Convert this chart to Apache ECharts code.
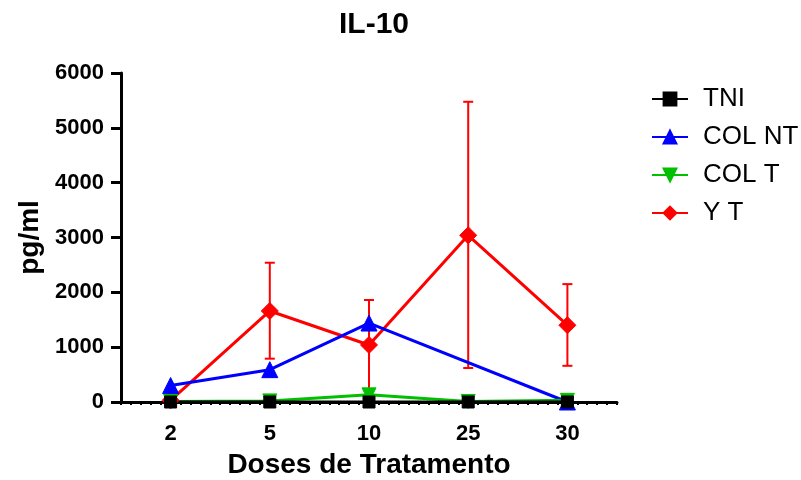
<!DOCTYPE html>
<html>
<head>
<meta charset="utf-8">
<script src="https://cdn.jsdelivr.net/npm/echarts@6/dist/echarts.min.js"></script>
<style>
html,body{margin:0;padding:0;background:#fff;}
#c{width:801px;height:480px;}
</style>
</head>
<body>
<div id="c"></div>
<script>
var categories = ['2', '5', '10', '25', '30'];
var tni = [0, 0, 0, 0, 0];
var colNT = [300, 590, 1440, null, 0];
var colT = [10, 20, 130, 10, 30];
var yT = [30, 1660, 1040, 3040, 1400];
var yTLow = [null, 790, 220, 620, 660];
var yTHigh = [null, 2540, 1860, 5475, 2150];
var yTicks = [0, 1000, 2000, 3000, 4000, 5000, 6000];

var FONT = 'Liberation Sans, Arial, sans-serif';
var chart = echarts.init(document.getElementById('c'));

var errData = [];
for (var i = 0; i < categories.length; i++) {
  if (yTLow[i] != null) errData.push([i, yTLow[i], yTHigh[i]]);
}

function mkLine(name, data, color, symbol, size, rot) {
  return {
    name: name, type: 'line', data: data, connectNulls: true,
    xAxisIndex: 0, yAxisIndex: 0,
    symbol: symbol, symbolSize: size, symbolRotate: rot || 0,
    lineStyle: { color: color, width: 3 },
    itemStyle: { color: color, borderColor: color, borderWidth: 1 },
    emphasis: { disabled: true }, animation: false
  };
}

var option = {
  backgroundColor: '#fff',
  animation: false,
  title: {
    text: 'IL-10', left: 369, textAlign: 'center', top: 5,
    textStyle: { fontFamily: FONT, fontWeight: 'bold', fontSize: 30, color: '#000' }
  },
  legend: {
    orient: 'vertical', left: 646, top: 81, itemGap: 12,
    itemWidth: 36, itemHeight: 16,
    textStyle: { fontFamily: FONT, fontSize: 26, color: '#000', padding: [0, 0, 0, 10] },
    data: ['TNI', 'COL NT', 'COL T', 'Y T']
  },
  grid: { left: 121, right: 184, top: 73, bottom: 78, containLabel: false, outerBoundsMode: 'none' },
  xAxis: [{
    type: 'category', data: categories, boundaryGap: true,
    axisLine: { show: true, lineStyle: { color: '#000', width: 3 } },
    axisTick: { show: false },
    axisLabel: { fontFamily: FONT, fontWeight: 'bold', fontSize: 22, color: '#000', margin: 21 },
    name: 'Doses de Tratamento', nameLocation: 'middle', nameGap: 49,
    nameTextStyle: { fontFamily: FONT, fontWeight: 'bold', fontSize: 28, color: '#000' }
  }, {
    type: 'value', min: 0, max: 50, interval: 1, position: 'bottom',
    axisLine: { show: false },
    axisTick: { show: true, length: 3, lineStyle: { color: '#000', width: 2 } },
    axisLabel: { show: false }, splitLine: { show: false }
  }],
  yAxis: {
    type: 'value', min: 0, max: 6000, interval: 1000,
    axisLine: { show: true, lineStyle: { color: '#000', width: 3 } },
    axisTick: { show: true, length: 10, lineStyle: { color: '#000', width: 3 } },
    axisLabel: { fontFamily: FONT, fontWeight: 'bold', fontSize: 22, color: '#000', margin: 17,
      formatter: function (v) { return String(v); } },
    splitLine: { show: false },
    name: 'pg/ml', nameLocation: 'middle', nameGap: 76,
    nameTextStyle: { fontFamily: FONT, fontWeight: 'bold', fontSize: 28, color: '#000' }
  },
  series: [
    {
      type: 'custom', name: 'errYT', xAxisIndex: 0, yAxisIndex: 0, data: errData,
      renderItem: function (params, api) {
        var x = api.value(0);
        var lo = api.coord([x, api.value(1)]);
        var hi = api.coord([x, api.value(2)]);
        var w = 5;
        var st = { stroke: '#ff0000', lineWidth: 2 };
        return {
          type: 'group', children: [
            { type: 'line', shape: { x1: lo[0], y1: lo[1], x2: hi[0], y2: hi[1] }, style: st },
            { type: 'line', shape: { x1: hi[0] - w, y1: hi[1], x2: hi[0] + w, y2: hi[1] }, style: st },
            { type: 'line', shape: { x1: lo[0] - w, y1: lo[1], x2: lo[0] + w, y2: lo[1] }, style: st }
          ]
        };
      },
      z: 1, animation: false
    },
    mkLine('Y T', yT, '#ff0000', 'diamond', 17),
    mkLine('COL NT', colNT, '#0000ff', 'triangle', 16),
    mkLine('COL T', colT, '#00c000', 'triangle', 14, 180),
    mkLine('TNI', tni, '#000000', 'rect', 12)
  ]
};
chart.setOption(option);
</script>
</body>
</html>
